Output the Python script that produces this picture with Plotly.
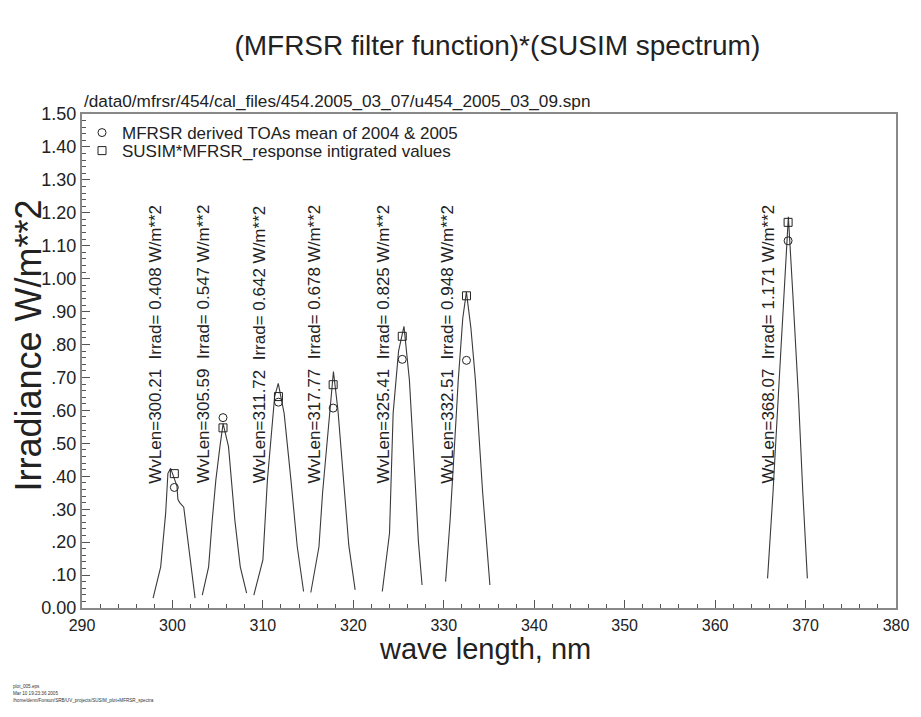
import plotly.graph_objects as go

# ---------------- data ----------------
peak_wvlen = [300.21, 305.59, 311.72, 317.77, 325.41, 332.51, 368.07]
peak_irrad = [0.408, 0.547, 0.642, 0.678, 0.825, 0.948, 1.171]
mfrsr_toa = [0.366, 0.578, 0.625, 0.607, 0.755, 0.752, 1.115]

curve1_x = [297.86, 298.7, 299.25, 299.5, 299.8, 300.1, 300.5, 300.6, 300.8, 301.25, 301.8, 302.5]
curve1_y = [0.030, 0.125, 0.288, 0.409, 0.424, 0.400, 0.370, 0.330, 0.320, 0.306, 0.186, 0.030]
curve2_x = [303.3, 304.0, 304.4, 304.8, 305.25, 305.6, 306.2, 306.9, 307.5, 308.2]
curve2_y = [0.039, 0.125, 0.267, 0.389, 0.490, 0.560, 0.490, 0.267, 0.125, 0.045]
curve3_x = [309.0, 310.0, 310.5, 311.3, 311.7, 312.35, 313.1, 313.8, 314.5]
curve3_y = [0.039, 0.146, 0.389, 0.642, 0.682, 0.591, 0.389, 0.186, 0.050]
curve4_x = [315.3, 316.2, 316.6, 317.1, 317.8, 318.3, 318.9, 319.5, 320.2]
curve4_y = [0.047, 0.186, 0.350, 0.510, 0.718, 0.600, 0.389, 0.190, 0.055]
curve5_x = [323.2, 324.0, 324.4, 325.0, 325.6, 326.2, 326.8, 327.2, 327.6]
curve5_y = [0.050, 0.227, 0.591, 0.780, 0.855, 0.692, 0.400, 0.200, 0.070]
curve6_x = [330.2, 330.7, 331.2, 331.6, 332.1, 332.5, 333.0, 333.5, 334.3, 335.1]
curve6_y = [0.080, 0.267, 0.500, 0.692, 0.880, 0.960, 0.850, 0.692, 0.350, 0.070]
curve7_x = [365.8, 366.4, 367.0, 367.6, 368.1, 368.6, 369.2, 369.7, 370.2]
curve7_y = [0.090, 0.350, 0.650, 0.950, 1.188, 0.950, 0.650, 0.350, 0.090]

y_tickvals = [0.0, 0.1, 0.2, 0.3, 0.4, 0.5, 0.6, 0.7, 0.8, 0.9, 1.0, 1.1, 1.2, 1.3, 1.4, 1.5]
y_ticktext = ["0.00", ".10", ".20", ".30", ".40", ".50", ".60", ".70", ".80", ".90",
              "1.00", "1.10", "1.20", "1.30", "1.40", "1.50"]
x_tickvals = [290, 300, 310, 320, 330, 340, 350, 360, 370, 380]

title_text = "(MFRSR filter function)*(SUSIM spectrum)"
file_text = "/data0/mfrsr/454/cal_files/454.2005_03_07/u454_2005_03_09.spn"
x_title = "wave length, nm"
y_title = "Irradiance W/m**2"
footer_lines = ["plot_005.eps", "Mar 10 19:23:36 2005",
                "/home/denn/Fonsun/SRB/UV_projects/SUSIM_plot+MFRSR_spectra"]

FONT = "Liberation Sans, Arial, Helvetica, sans-serif"
TXT = "#222"

curves = [(curve1_x, curve1_y), (curve2_x, curve2_y), (curve3_x, curve3_y),
          (curve4_x, curve4_y), (curve5_x, curve5_y), (curve6_x, curve6_y),
          (curve7_x, curve7_y)]
all_x, all_y = [], []
for cx, cy in curves:
    all_x += cx + [None]
    all_y += cy + [None]

fig = go.Figure()
fig.add_trace(go.Scatter(x=all_x, y=all_y, mode="lines",
                         line=dict(color="#3a3a3a", width=1.1),
                         showlegend=False, hoverinfo="skip"))
fig.add_trace(go.Scatter(x=peak_wvlen, y=mfrsr_toa, mode="markers",
                         name="MFRSR derived TOAs mean of 2004 & 2005", legend="legend",
                         marker=dict(symbol="circle-open", size=8, color=TXT,
                                     line=dict(width=1, color=TXT))))
fig.add_trace(go.Scatter(x=peak_wvlen, y=peak_irrad, mode="markers",
                         name="SUSIM*MFRSR_response intigrated values", legend="legend2",
                         marker=dict(symbol="square-open", size=8, color=TXT,
                                     line=dict(width=1, color=TXT))))

for wl, ir in zip(peak_wvlen, peak_irrad):
    fig.add_annotation(x=wl - 2.06, y=0.372, xref="x", yref="y",
                       text=f"WvLen={wl:.2f}  Irrad= {ir:.3f} W/m**2",
                       textangle=-90, showarrow=False, xanchor="center",
                       yanchor="bottom", font=dict(family=FONT, size=17, color=TXT))

fig.add_annotation(x=0.0, y=1.0, xref="paper", yref="paper", yshift=1,
                   text=file_text, showarrow=False, xanchor="left", yanchor="bottom",
                   font=dict(family=FONT, size=17.2, color=TXT))

# axis titles
fig.add_annotation(x=0.495, y=-0.083, xref="paper", yref="paper", text=x_title,
                   showarrow=False, xanchor="center", yanchor="middle",
                   font=dict(family=FONT, size=29, color=TXT))
fig.add_annotation(x=-0.066, y=0.532, xref="paper", yref="paper", text=y_title,
                   textangle=-90, showarrow=False, xanchor="center", yanchor="middle",
                   font=dict(family=FONT, size=36, color=TXT))

for i, line in enumerate(footer_lines):
    fig.add_annotation(x=-0.087, y=-0.158 - 0.0142 * i, xref="paper", yref="paper",
                       text=line, showarrow=False, xanchor="left", yanchor="middle",
                       font=dict(family=FONT, size=4.6, color="#333"))

fig.update_layout(
    width=921, height=717,
    margin=dict(l=82, r=15, t=114, b=109),
    paper_bgcolor="white", plot_bgcolor="white",
    font=dict(family=FONT, color=TXT),
    title=dict(text=title_text, x=0.54, xanchor="center", y=0.937, yanchor="middle",
               font=dict(family=FONT, size=28, color=TXT)),
    legend=dict(x=0.0, y=0.9615, xanchor="left", yanchor="middle",
                bgcolor="rgba(0,0,0,0)", font=dict(family=FONT, size=17, color=TXT)),
    legend2=dict(x=0.0, y=0.925, xanchor="left", yanchor="middle",
                 bgcolor="rgba(0,0,0,0)", font=dict(family=FONT, size=17, color=TXT)),
    xaxis=dict(range=[290, 380], tickvals=x_tickvals, ticks="inside", ticklen=8,
               tickcolor="#555", showline=True, linecolor="#888", linewidth=2,
               mirror=True, showgrid=False, zeroline=False, ticklabelstandoff=2,
               tickfont=dict(family=FONT, size=16, color=TXT),
               minor=dict(dtick=2, ticks="inside", ticklen=4, tickcolor="#555", showgrid=False)),
    yaxis=dict(range=[0, 1.5], tickvals=y_tickvals, ticktext=y_ticktext,
               ticks="inside", ticklen=8, tickcolor="#555", showline=True,
               linecolor="#888", linewidth=2, mirror=True, showgrid=False, zeroline=False,
               tickfont=dict(family=FONT, size=18, color=TXT),
               minor=dict(dtick=0.02, ticks="inside", ticklen=4, tickcolor="#555", showgrid=False)),
)

fig.write_html("out.html")
